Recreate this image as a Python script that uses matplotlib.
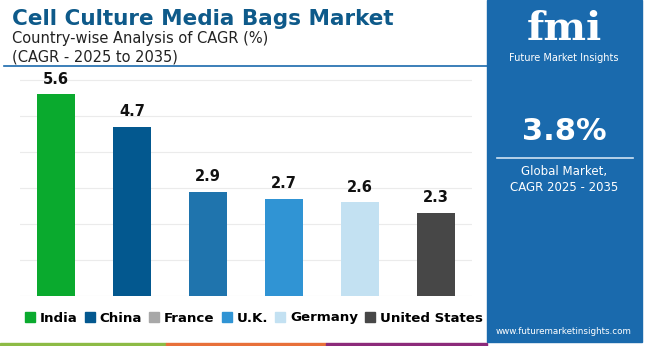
import matplotlib
matplotlib.use("Agg")
import matplotlib.pyplot as plt
from matplotlib.patches import Rectangle
from matplotlib.lines import Line2D

categories = ["India", "China", "France", "U.K.", "Germany", "United States"]
values = [5.6, 4.7, 2.9, 2.7, 2.6, 2.3]
bar_colors = ["#0aaa2e", "#03588f", "#1f74ad", "#3094d4", "#c3e1f2", "#474747"]
legend_colors = ["#0aaa2e", "#03588f", "#a8a8a8", "#3094d4", "#c3e1f2", "#474747"]

W, H = 650, 346
fig = plt.figure(figsize=(W / 100, H / 100), dpi=100)
fig.patch.set_facecolor("white")

def fx(px):
    return px / W

def fy(py):
    return 1 - py / H

# Axes: x 20..472, y 70..296
ax = fig.add_axes([fx(20), fy(296), fx(472) - fx(20), fy(70) - fy(296)])
x = list(range(len(categories)))
ax.bar(x, values, width=0.5, color=bar_colors, zorder=3)
ax.set_xlim(-0.474, 5.474)
ax.set_ylim(0, 6.28)
ax.set_yticks([0, 1, 2, 3, 4, 5, 6])
ax.grid(axis="y", color="#ebebeb", linewidth=0.8, zorder=0)
ax.tick_params(left=False, bottom=False, labelleft=False, labelbottom=False)
for s in ax.spines.values():
    s.set_visible(False)
for xi, v in zip(x, values):
    ax.text(xi, v + 0.22, f"{v}", ha="center", va="bottom", fontsize=10.5,
            fontweight="bold", color="#111111", zorder=4)

# Title block
fig.text(fx(12), fy(19), "Cell Culture Media Bags Market", fontsize=15.5,
         fontweight="bold", color="#0e5a8a", va="center", ha="left")
fig.text(fx(12), fy(38), "Country-wise Analysis of CAGR (%)", fontsize=10.5,
         color="#222222", va="center", ha="left")
fig.text(fx(12), fy(57), "(CAGR - 2025 to 2035)", fontsize=10.5,
         color="#222222", va="center", ha="left")
fig.add_artist(Line2D([fx(4), fx(487)], [fy(66), fy(66)], color="#1a6aad", lw=1.2))

# Legend
handles = [Rectangle((0, 0), 1, 1, color=c) for c in legend_colors]
leg = fig.legend(handles, categories, loc="center", bbox_to_anchor=(fx(254), fy(318)),
                 ncol=6, frameon=False, handlelength=0.75, handleheight=0.75,
                 handletextpad=0.35, columnspacing=0.55, borderpad=0,
                 prop={"weight": "bold", "size": 9.6})

# Bottom color strip
for x0, x1, c in [(0, 166, "#8dbb45"), (166, 326, "#e8703a"), (326, 487, "#8c2a7a")]:
    fig.add_artist(Rectangle((fx(x0), 0), fx(x1) - fx(x0), 3 / H, color=c,
                             transform=fig.transFigure))

# Right panel
fig.add_artist(Rectangle((fx(487), fy(342)), fx(642) - fx(487), 342 / H,
                         color="#1a6aad", transform=fig.transFigure, zorder=0))
cx = fx(564)
fig.text(cx, fy(29), "fmi", fontsize=29, fontweight="bold", color="white",
         ha="center", va="center", family="DejaVu Serif")
fig.text(cx, fy(58), "Future Market Insights", fontsize=7, color="white",
         ha="center", va="center")
fig.text(cx, fy(131), "3.8%", fontsize=22, fontweight="bold", color="white",
         ha="center", va="center")
fig.add_artist(Line2D([fx(497), fx(633)], [fy(158), fy(158)], color="#cfe3f3", lw=1.2))
fig.text(cx, fy(172), "Global Market,", fontsize=8.5, color="white",
         ha="center", va="center")
fig.text(cx, fy(188), "CAGR 2025 - 2035", fontsize=8.5, color="white",
         ha="center", va="center")
fig.text(cx, fy(331), "www.futuremarketinsights.com", fontsize=6.3, color="white",
         ha="center", va="center")

fig.savefig("out.png", dpi=100)
